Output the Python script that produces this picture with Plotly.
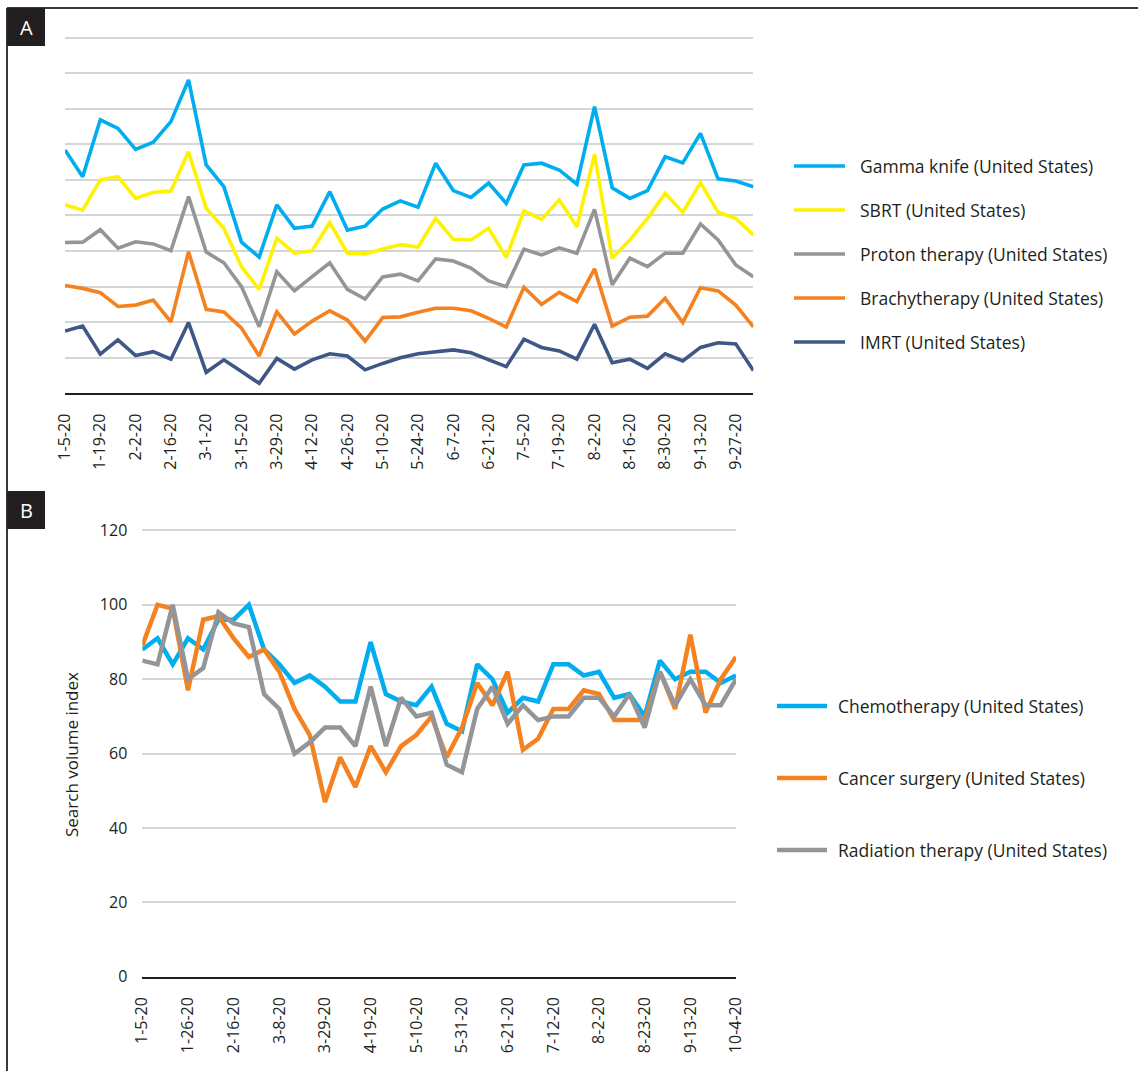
import plotly.graph_objects as go

W, H = 1138, 1071

# ---------------- data ----------------
weeks = ["1-5-20", "1-12-20", "1-19-20", "1-26-20", "2-2-20", "2-9-20", "2-16-20", "2-23-20",
         "3-1-20", "3-8-20", "3-15-20", "3-22-20", "3-29-20", "4-5-20", "4-12-20", "4-19-20",
         "4-26-20", "5-3-20", "5-10-20", "5-17-20", "5-24-20", "5-31-20", "6-7-20", "6-14-20",
         "6-21-20", "6-28-20", "7-5-20", "7-12-20", "7-19-20", "7-26-20", "8-2-20", "8-9-20",
         "8-16-20", "8-23-20", "8-30-20", "9-6-20", "9-13-20", "9-20-20", "9-27-20", "10-4-20"]

ticks_a = weeks[::2]
ticks_b = weeks[::3]

# Panel A (relative search volume, no scale shown)
gamma_knife = [68.4, 60.9, 76.9, 74.5, 68.6, 70.6, 76.4, 88.1, 64.2, 58.1,
               42.5, 38.3, 53.0, 46.4, 47.0, 56.7, 45.9, 47.0, 51.8, 54.1,
               52.3, 64.7, 57.0, 55.1, 59.1, 53.4, 64.2, 64.7, 62.8, 58.8,
               80.6, 57.8, 54.8, 57.0, 66.5, 64.8, 73.1, 60.3, 59.7, 58.1]
sbrt = [53.0, 51.5, 60.0, 60.9, 54.8, 56.5, 56.9, 67.9, 52.0, 46.4,
        35.6, 29.2, 43.6, 39.4, 40.1, 48.0, 39.4, 39.2, 40.6, 41.8,
        41.1, 49.2, 43.3, 43.1, 46.4, 38.2, 51.3, 48.9, 54.4, 46.8,
        67.2, 38.0, 43.1, 49.2, 56.2, 50.9, 59.2, 50.9, 49.2, 44.5]
proton = [42.4, 42.5, 46.0, 40.8, 42.6, 42.0, 40.1, 55.3, 39.7, 36.7,
          30.0, 18.7, 34.2, 28.8, 32.8, 36.7, 29.2, 26.5, 32.7, 33.5,
          31.6, 37.8, 37.2, 35.2, 31.6, 30.0, 40.5, 38.9, 40.9, 39.4,
          51.7, 30.5, 38.0, 35.6, 39.4, 39.4, 47.6, 43.1, 36.1, 32.8]
brachy = [30.3, 29.5, 28.3, 24.4, 24.8, 26.2, 20.1, 39.8, 23.6, 22.9,
          18.3, 10.5, 22.9, 16.7, 20.3, 23.2, 20.6, 14.7, 21.3, 21.5,
          22.8, 23.9, 23.9, 23.2, 21.1, 18.6, 29.8, 25.0, 28.4, 25.8,
          35.0, 18.9, 21.4, 21.7, 26.7, 19.9, 29.7, 28.8, 24.8, 18.7]
imrt = [17.5, 18.9, 11.0, 15.0, 10.6, 11.7, 9.6, 19.9, 5.9, 9.4,
        6.1, 2.8, 9.8, 6.8, 9.4, 11.1, 10.5, 6.6, 8.4, 10.0,
        11.1, 11.7, 12.2, 11.4, 9.4, 7.5, 15.2, 12.9, 11.9, 9.6,
        19.4, 8.6, 9.6, 7.0, 11.1, 9.1, 12.9, 14.2, 13.9, 6.4]

# Panel B (search volume index)
chemo = [88, 91, 84, 91, 88, 96, 96, 100, 88, 84,
         79, 81, 78, 74, 74, 90, 76, 74, 73, 78,
         68, 66, 84, 80, 71, 75, 74, 84, 84, 81,
         82, 75, 76, 70, 85, 80, 82, 82, 79, 81]
surgery = [89, 100, 99, 77, 96, 97, 91, 86, 88, 82,
           72, 65, 47, 59, 51, 62, 55, 62, 65, 70,
           59, 67, 79, 73, 82, 61, 64, 72, 72, 77,
           76, 69, 69, 69, 82, 72, 92, 71, 80, 86]
radiation = [85, 84, 100, 80, 83, 98, 95, 94, 76, 72,
             60, 63, 67, 67, 62, 78, 62, 75, 70, 71,
             57, 55, 72, 78, 68, 73, 69, 70, 70, 75,
             75, 70, 76, 67, 82, 73, 80, 73, 73, 80]

names_a = ["Gamma knife (United States)", "SBRT (United States)", "Proton therapy (United States)",
           "Brachytherapy (United States)", "IMRT (United States)"]
names_b = ["Chemotherapy (United States)", "Cancer surgery (United States)",
           "Radiation therapy (United States)"]

# ---------------- style ----------------
C_BLUE = "#00aeef"
C_YELLOW = "#fff200"
C_GRAY = "#939598"
C_ORANGE = "#f58220"
C_NAVY = "#3f5787"
INK = "#231f20"
GRID = "#d4d5d6"
FONT = "Open Sans"

colors_a = [C_BLUE, C_YELLOW, C_GRAY, C_ORANGE, C_NAVY]
colors_b = [C_BLUE, C_ORANGE, C_GRAY]
series_a = [gamma_knife, sbrt, proton, brachy, imrt]
series_b = [chemo, surgery, radiation]


def px_x(p):
    return p / W


def px_y(p):
    return 1 - p / H


fig = go.Figure()

for name, ys, col in zip(names_a, series_a, colors_a):
    fig.add_trace(go.Scatter(x=weeks, y=ys, name=name, mode="lines",
                             line=dict(color=col, width=3.6),
                             xaxis="x", yaxis="y", showlegend=False))

for name, ys, col in zip(names_b, series_b, colors_b):
    fig.add_trace(go.Scatter(x=weeks, y=ys, name=name, mode="lines",
                             line=dict(color=col, width=4.5),
                             xaxis="x2", yaxis="y2", showlegend=False))

tickfont = dict(family=FONT, size=16, color=INK)

fig.update_layout(
    width=W, height=H,
    margin=dict(l=0, r=0, t=0, b=0, pad=0),
    paper_bgcolor="white", plot_bgcolor="white",
    font=dict(family=FONT, color=INK),
    showlegend=False,
    xaxis=dict(domain=[px_x(65), px_x(753.4)], type="category", range=[0, 39],
               tickmode="array", tickvals=ticks_a, ticktext=ticks_a, tickangle=-90,
               tickfont=tickfont, showgrid=False, showline=True, linecolor=INK,
               linewidth=2, ticks="", ticklabelstandoff=12, anchor="y", zeroline=False,
               automargin=False),
    yaxis=dict(domain=[px_y(393.3), px_y(34.1)], range=[0, 101], dtick=10,
               showticklabels=False, showgrid=True, gridcolor=GRID, gridwidth=1.6,
               zeroline=False, showline=False, anchor="x", automargin=False),
    xaxis2=dict(domain=[px_x(142.3), px_x(736)], type="category", range=[0, 39],
                tickmode="array", tickvals=ticks_b, ticktext=ticks_b, tickangle=-90,
                tickfont=tickfont, showgrid=False, showline=True, linecolor=INK,
                linewidth=2, ticks="", ticklabelstandoff=12, anchor="y2", zeroline=False,
                automargin=False),
    yaxis2=dict(domain=[px_y(976.7), px_y(526.0)], range=[0, 121.2], dtick=20,
                tickfont=tickfont, showgrid=True, gridcolor=GRID, gridwidth=1.6,
                zeroline=False, showline=False, anchor="x2", ticklabelstandoff=14,
                automargin=False),
)

shapes = []
annotations = []

# outer frame (left and top)
shapes.append(dict(type="line", xref="paper", yref="paper", x0=px_x(7), x1=px_x(7),
                   y0=px_y(8), y1=px_y(H), line=dict(color="#3a3a3a", width=2)))
shapes.append(dict(type="line", xref="paper", yref="paper", x0=px_x(7), x1=1,
                   y0=px_y(8), y1=px_y(8), line=dict(color="#3a3a3a", width=2)))

# panel label boxes
for lab, top in (("A", 8), ("B", 491)):
    shapes.append(dict(type="rect", xref="paper", yref="paper", x0=px_x(7), x1=px_x(45),
                       y0=px_y(top + 38), y1=px_y(top), fillcolor=INK, line=dict(width=0)))
    annotations.append(dict(text=lab, xref="paper", yref="paper", x=px_x(26), y=px_y(top + 19),
                            showarrow=False, xanchor="center", yanchor="middle",
                            font=dict(family=FONT, size=20, color="white")))

# y-axis title panel B
annotations.append(dict(text="Search volume index", xref="paper", yref="paper",
                        x=px_x(71), y=px_y(755), textangle=-90, showarrow=False,
                        xanchor="center", yanchor="middle",
                        font=dict(family=FONT, size=17, color=INK)))

# legends (manual)
leg_a_y = [166, 210, 254, 298, 342]
for name, col, yy in zip(names_a, colors_a, leg_a_y):
    shapes.append(dict(type="line", xref="paper", yref="paper", x0=px_x(794), x1=px_x(845),
                       y0=px_y(yy), y1=px_y(yy), line=dict(color=col, width=3.5)))
    annotations.append(dict(text=name, xref="paper", yref="paper", x=px_x(858), y=px_y(yy),
                            showarrow=False, xanchor="left", yanchor="middle",
                            font=dict(family=FONT, size=17.5, color=INK)))

leg_b_y = [706, 778, 850]
for name, col, yy in zip(names_b, colors_b, leg_b_y):
    shapes.append(dict(type="line", xref="paper", yref="paper", x0=px_x(777), x1=px_x(827),
                       y0=px_y(yy), y1=px_y(yy), line=dict(color=col, width=4.5)))
    annotations.append(dict(text=name, xref="paper", yref="paper", x=px_x(836), y=px_y(yy),
                            showarrow=False, xanchor="left", yanchor="middle",
                            font=dict(family=FONT, size=17.5, color=INK)))

fig.update_layout(shapes=shapes, annotations=annotations)

fig.write_html("out.html", config={"displayModeBar": False},
               post_script="document.body.style.margin='0px';document.body.style.overflow='hidden';")
